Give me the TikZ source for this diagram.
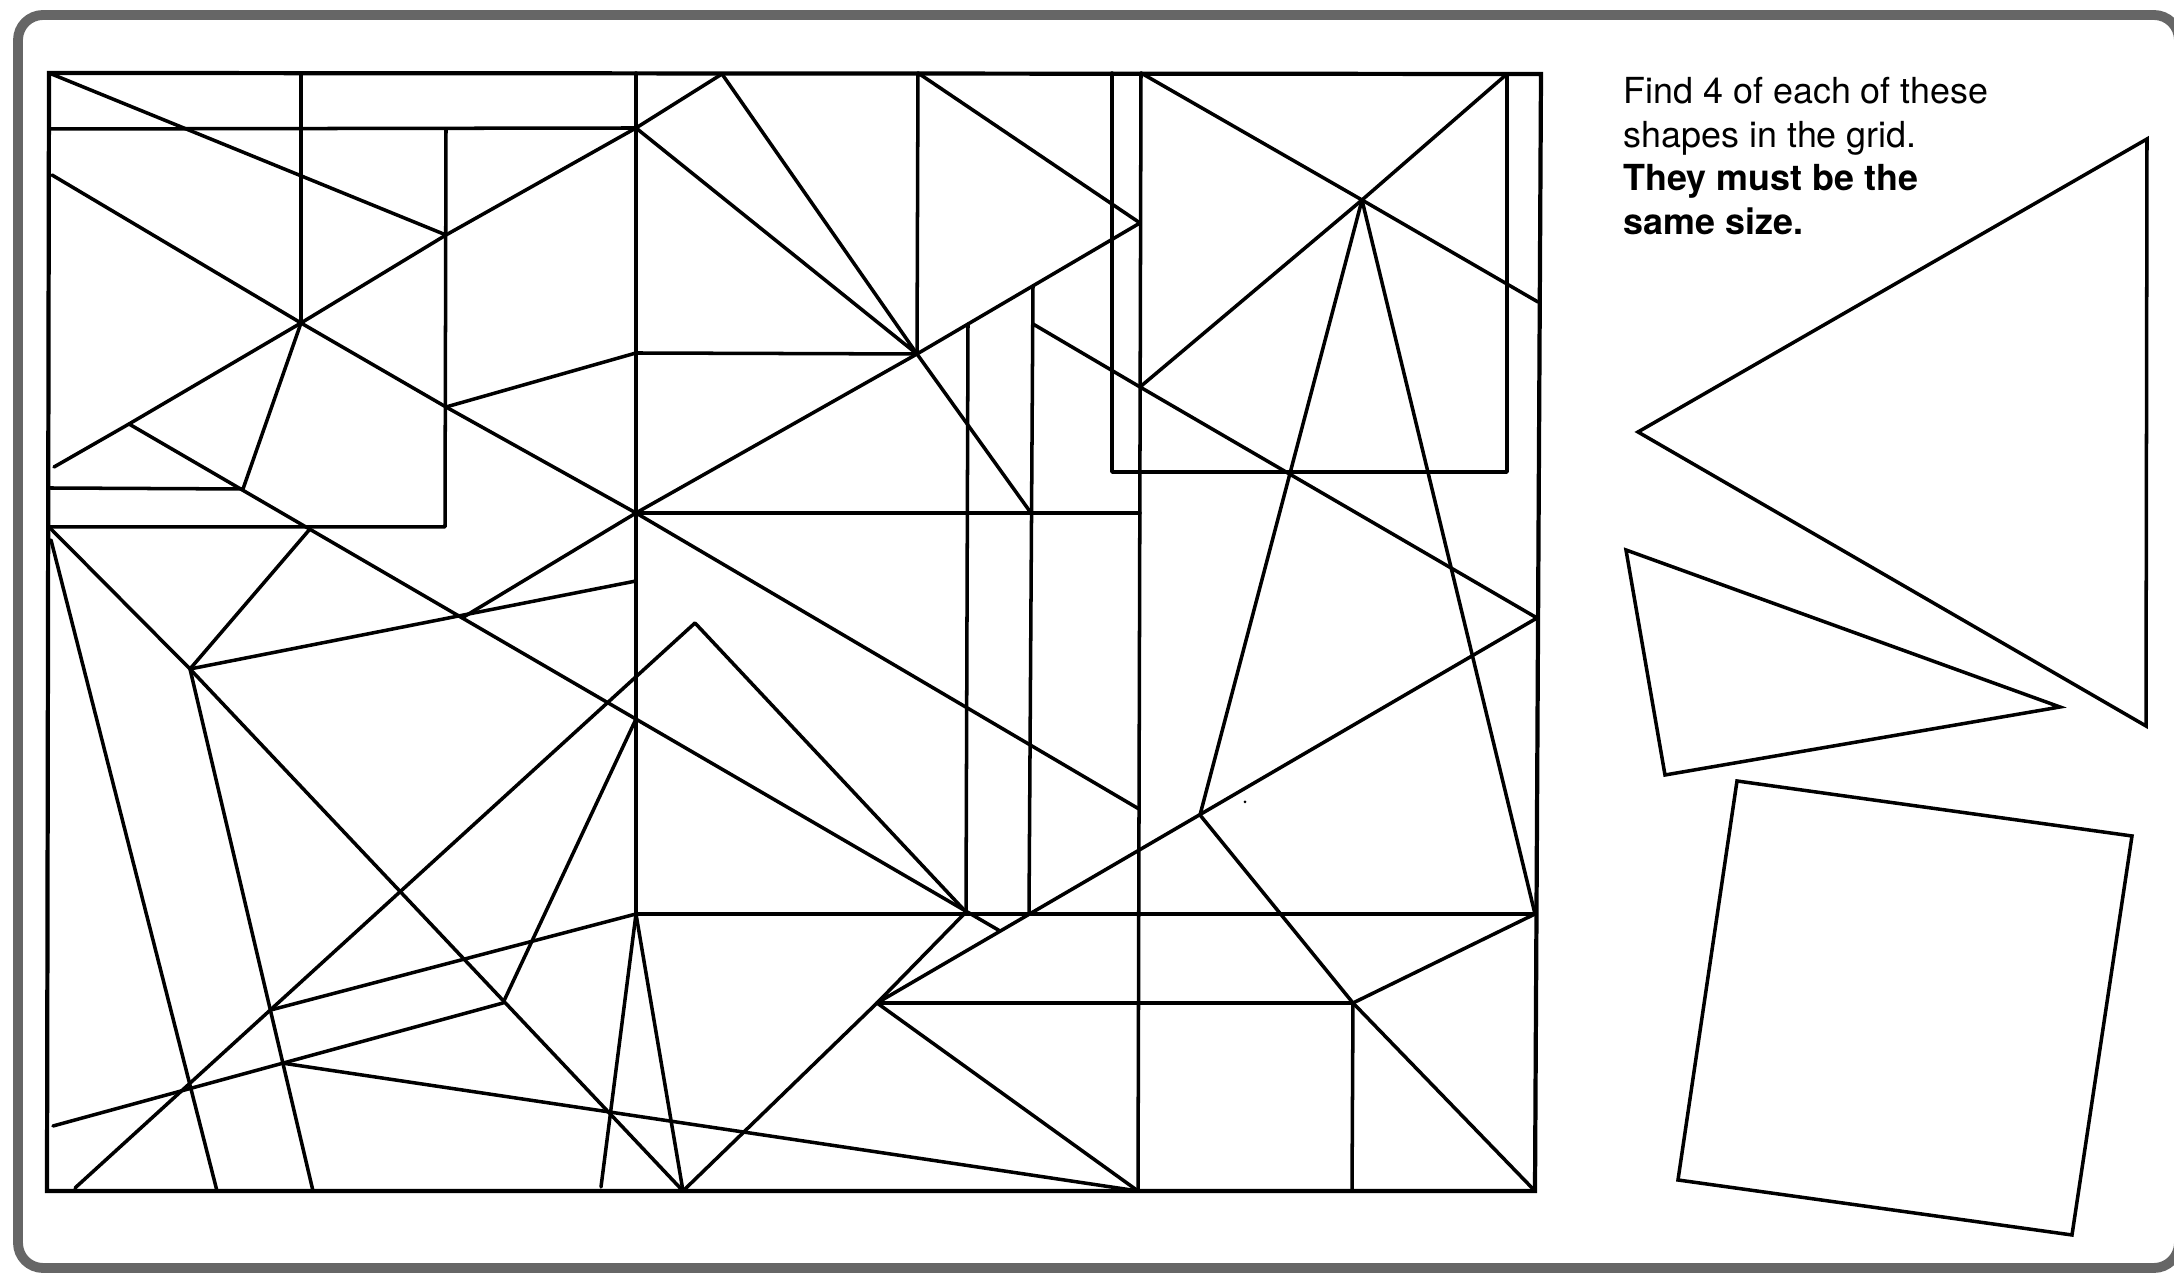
\documentclass[tikz,border=0pt]{standalone}
\usepackage{fontspec}
\setmainfont{TeX Gyre Heros}
\begin{document}
\begin{tikzpicture}[x=0.01cm,y=-0.01cm,
  gridline/.style={line width=1pt, line join=round, line cap=round},
  borderline/.style={line width=1.2pt, line join=miter},
  shapeline/.style={line width=1pt, line join=miter},
  framebox/.style={line width=2.8pt, draw=black!60, rounded corners=0.25cm},
  lbl/.style={anchor=base west, inner sep=0pt, font=\fontsize{10.2}{12.4}\selectfont}]
\useasboundingbox (0,0) rectangle (2174,1274);
\begin{scope}
\clip (0,0) rectangle (2174,1274);
\draw[framebox] (18,15) rectangle (2179,1268);
\end{scope}

% grid outline
\coordinate (gTL) at (49,73);
\coordinate (gTR) at (1541,74);
\coordinate (gBR) at (1535,1191);
\coordinate (gBL) at (47,1191);
\draw[borderline] (gTL) -- (gTR) -- (gBR) -- (gBL) -- cycle;

% named points
\coordinate (cL) at (49,129);
\coordinate (S) at (636,128);
\coordinate (dT) at (301,73);
\coordinate (A) at (301,323);
\coordinate (P) at (446,235);
\coordinate (fT) at (446,129);
\coordinate (RC) at (445,527);
\coordinate (bL) at (49,527);
\coordinate (gS) at (54,467);
\coordinate (R) at (129,424);
\coordinate (hS) at (52,175);
\coordinate (P2) at (446,407);
\coordinate (B) at (636,513);
\coordinate (hE) at (1139,809);
\coordinate (C) at (243,489);
\coordinate (cH) at (49,488);
\coordinate (L1E) at (1000,931);
\coordinate (E) at (310,529);
\coordinate (G) at (462,618);
\coordinate (VL) at (636,719);
\coordinate (VV) at (966,912);
\coordinate (D) at (190,669);
\coordinate (F) at (636,581);
\coordinate (BV) at (683,1191);
\coordinate (DL) at (313,1191);
\coordinate (mS) at (51,540);
\coordinate (mE) at (217,1191);
\coordinate (Ap) at (695,623);
\coordinate (apL) at (75,1188);
\coordinate (Vq) at (503,1003);
\coordinate (vqL) at (53,1126);
\coordinate (H) at (636,914);
\coordinate (hL) at (601,1187);
\coordinate (O) at (877,1003);
\coordinate (V3b) at (1138,1191);
\coordinate (V3t) at (1141,73);
\coordinate (E2) at (intersection of apL--Ap and D--DL);
\coordinate (K2) at (intersection of vqL--Vq and D--DL);
\coordinate (T1) at (722,74);
\coordinate (U) at (917,354);
\coordinate (V2t) at (918,73);
\coordinate (W) at (1140,223);
\coordinate (Q) at (636,353);
\coordinate (V1t) at (636,73);
\coordinate (w1) at (968,324);
\coordinate (w2) at (1033,286);
\coordinate (v4b) at (1029,913);
\coordinate (x1s) at (1033,324);
\coordinate (X1) at (1140,387);
\coordinate (Y1) at (1537,618);
\coordinate (Z) at (1031,513);
\coordinate (bE) at (1140,513);
\coordinate (r2a) at (1112,73);
\coordinate (r2b) at (1112,472);
\coordinate (r2c) at (1507,472);
\coordinate (r2d) at (1507,74);
\coordinate (K) at (1362,200);
\coordinate (kR) at (1538,302);
\coordinate (M) at (1200,815);
\coordinate (N) at (1535,914);
\coordinate (J) at (1353,1003);
\coordinate (jB) at (1352,1191);

% top-left block
\draw[gridline] (cL) -- (S);
\draw[gridline] (dT) -- (A);
\draw[gridline] (gTL) -- (P);
\draw[gridline] (fT) -- (RC) -- (bL);
\draw[gridline] (gS) -- (R) -- (A) -- (P) -- (S);
\draw[gridline] (hS) -- (A) -- (P2) -- (B) -- (hE);
\draw[gridline] (R) -- (L1E);
\draw[gridline] (A) -- (C);
\draw[gridline] (cH) -- (C);

% lower-left
\draw[gridline] (bL) -- (D) -- (BV);
\draw[gridline] (D) -- (E);
\draw[gridline] (D) -- (F);
\draw[gridline] (G) -- (B);
\draw[gridline] (mS) -- (mE);
\draw[gridline] (D) -- (DL);
\draw[gridline] (apL) -- (Ap) -- (VV);
\draw[gridline] (VL) -- (Vq) -- (vqL);
\draw[gridline] (E2) -- (H);
\draw[gridline] (K2) -- (V3b);
\draw[gridline] (H) -- (hL);
\draw[gridline] (H) -- (BV);
\draw[gridline] (BV) -- (O) -- (VV);
\draw[gridline] (O) -- (V3b);
\draw[gridline] (O) -- (J);
\draw[gridline] (O) -- (Y1);
\draw[gridline] (V1t) -- (H);
\draw[gridline] (H) -- (N);

% upper middle
\draw[gridline] (P2) -- (Q) -- (U);
\draw[gridline] (S) -- (T1) -- (U) -- (S);
\draw[gridline] (V2t) -- (U);
\draw[gridline] (V2t) -- (W) -- (U);
\draw[gridline] (w1) -- (VV);
\draw[gridline] (w2) -- (v4b);
\draw[gridline] (x1s) -- (X1) -- (Y1);
\draw[gridline] (U) -- (Z);
\draw[gridline] (B) -- (bE);
\draw[gridline] (B) -- (U);

% right block
\draw[gridline] (V3t) -- (V3b);
\draw[gridline] (r2a) -- (r2b) -- (r2c) -- (r2d);
\draw[gridline] (V3t) -- (K) -- (kR);
\draw[gridline] (r2d) -- (K) -- (X1);
\draw[gridline] (K) -- (M) -- (J) -- (gBR);
\draw[gridline] (K) -- (N) -- (J) -- (jB);
\fill (1245,802) circle (1.5);

% shapes to find
\coordinate (bt1) at (1638,432);
\coordinate (bt2) at (2147,139);
\coordinate (bt3) at (2146,726);
\draw[shapeline] (bt1) -- (bt2) -- (bt3) -- cycle;
\coordinate (st1) at (1626,550);
\coordinate (st2) at (2060,707);
\coordinate (st3) at (1665,775);
\draw[shapeline] (st1) -- (st2) -- (st3) -- cycle;
\coordinate (sq1) at (1737,781);
\coordinate (sq2) at (2132,836);
\coordinate (sq3) at (2072,1235);
\coordinate (sq4) at (1678,1180);
\draw[shapeline] (sq1) -- (sq2) -- (sq3) -- (sq4) -- cycle;

% instructions
\node[lbl] (t1) at (1623,104) {Find 4 of each of these};
\node[lbl] (t2) at (1623,148) {shapes in the grid.};
\node[lbl] (t3) at (1623,191) {\bfseries They must be the};
\node[lbl] (t4) at (1623,235) {\bfseries same size.};
\end{tikzpicture}
\end{document}
